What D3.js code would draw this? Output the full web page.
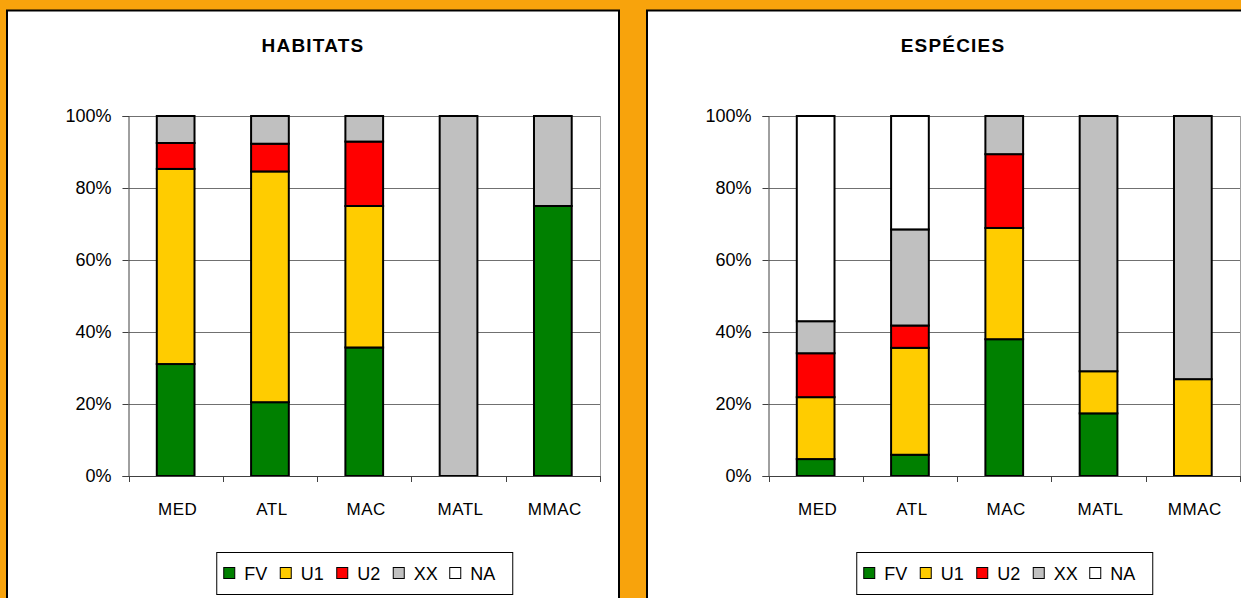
<!DOCTYPE html>
<html>
<head>
<meta charset="utf-8">
<script src="https://cdn.jsdelivr.net/npm/d3@7"></script>
<style>
  html, body { margin: 0; padding: 0; background: #f8a30c; }
  svg { display: block; font-family: "Liberation Sans", Arial, sans-serif; }
</style>
</head>
<body>
<svg id="chart" width="1241" height="598"></svg>
<script>
'use strict';

// categories and status classes
const categories = ['MED', 'ATL', 'MAC', 'MATL', 'MMAC'];
const statuses = ['FV', 'U1', 'U2', 'XX', 'NA'];
const statusColors = ['#008000', '#ffcc00', '#ff0000', '#c0c0c0', '#ffffff'];
const yTicks = [0, 0.2, 0.4, 0.6, 0.8, 1];

// HABITATS, percent of each region
const habFV = [31.1, 20.5, 35.7, 0, 75];
const habU1 = [54.2, 64.1, 39.3, 0, 0];
const habU2 = [7.2, 7.7, 17.9, 0, 0];
const habXX = [7.5, 7.7, 7.1, 100, 25];
const habNA = [0, 0, 0, 0, 0];

// ESPÉCIES
const espFV = [4.7, 5.9, 38.0, 17.4, 0];
const espU1 = [17.2, 29.7, 30.9, 11.7, 26.9];
const espU2 = [12.2, 6.2, 20.5, 0, 0];
const espXX = [8.9, 26.7, 10.6, 70.9, 73.1];
const espNA = [57.0, 31.5, 0, 0, 0];

const svg = d3.select('#chart');
svg.append('rect').attr('width', 1241).attr('height', 598).attr('fill', '#f8a30c');

function rows(series) {
  return categories.map((c, i) => {
    const r = { cat: c };
    statuses.forEach((s, j) => { r[s] = series[j][i] / 100; });
    return r;
  });
}

function panel(x0, title, series) {
  const g = svg.append('g').attr('transform', `translate(${x0},0)`);

  g.append('rect')
    .attr('x', 0).attr('y', 10.5)
    .attr('width', 612).attr('height', 640)
    .attr('fill', '#fff').attr('stroke', '#000').attr('stroke-width', 2);

  g.append('text')
    .attr('x', 306).attr('y', 52)
    .attr('text-anchor', 'middle')
    .attr('font-size', 19).attr('font-weight', 'bold')
    .attr('letter-spacing', 1.2)
    .text(title);

  const left = 121.5, width = 471.5, top = 116, bottom = 476;

  const y = d3.scaleLinear().domain([0, 1]).range([bottom, top]);
  const xb = d3.scaleBand().domain(categories).range([left, left + width]);
  const x = d3.scaleBand().domain(categories).range([left, left + width])
    .paddingInner(0.6).paddingOuter(0.3);

  // gridlines
  g.append('g').selectAll('line').data(yTicks.slice(1)).join('line')
    .attr('x1', left).attr('x2', left + width)
    .attr('y1', d => Math.round(y(d)) + 0.5).attr('y2', d => Math.round(y(d)) + 0.5)
    .attr('stroke', '#707070').attr('stroke-width', 1);
  g.append('line')
    .attr('x1', left + width + 0.5).attr('x2', left + width + 0.5)
    .attr('y1', top).attr('y2', bottom)
    .attr('stroke', '#a0a0a0');

  // stacked bars
  const stacked = d3.stack().keys(statuses)(rows(series));
  g.append('g').selectAll('g').data(stacked).join('g')
    .attr('fill', (d, i) => statusColors[i])
    .selectAll('rect').data(d => d.filter(p => p[1] - p[0] > 0)).join('rect')
    .attr('x', d => x(d.data.cat))
    .attr('width', x.bandwidth())
    .attr('y', d => y(d[1]))
    .attr('height', d => y(d[0]) - y(d[1]))
    .attr('stroke', '#000').attr('stroke-width', 2);

  // y axis
  const yAxis = g.append('g')
    .attr('transform', `translate(${left},0)`)
    .call(d3.axisLeft(y).tickValues(yTicks).tickFormat(d3.format('.0%')).tickSize(6).tickPadding(11));
  yAxis.select('.domain').attr('stroke', '#404040');
  yAxis.selectAll('.tick line').attr('stroke', '#404040');
  yAxis.selectAll('text').attr('font-size', 18).attr('fill', '#000')
    .attr('font-family', '"Liberation Sans", Arial, sans-serif');

  // x axis: ticks between categories
  const bounds = categories.map(c => xb(c)).concat([left + width]);
  g.append('line')
    .attr('x1', left).attr('x2', left + width)
    .attr('y1', bottom + 0.5).attr('y2', bottom + 0.5)
    .attr('stroke', '#404040');
  g.append('g').selectAll('line').data(bounds).join('line')
    .attr('x1', d => Math.round(d) + 0.5).attr('x2', d => Math.round(d) + 0.5)
    .attr('y1', bottom).attr('y2', bottom + 6)
    .attr('stroke', '#404040');
  g.append('g').selectAll('text').data(categories).join('text')
    .attr('x', d => xb(d) + xb.bandwidth() / 2 + 2)
    .attr('y', 515)
    .attr('text-anchor', 'middle')
    .attr('font-size', 17)
    .attr('letter-spacing', 0.5)
    .text(d => d);

  // legend
  const lw = 296, lh = 42;
  const lx = left + width / 2 - lw / 2, ly = 552;
  const lg = g.append('g').attr('transform', `translate(${lx},${ly})`);
  lg.append('rect').attr('x', 0.5).attr('y', 0.5).attr('width', lw).attr('height', lh)
    .attr('fill', '#fff').attr('stroke', '#000');
  const item = lg.selectAll('g').data(statuses).join('g')
    .attr('transform', (d, i) => `translate(${7 + i * 56.5},0)`);
  item.append('rect')
    .attr('x', 0.5).attr('y', 15.5).attr('width', 11).attr('height', 11)
    .attr('fill', (d, i) => statusColors[i]).attr('stroke', '#000');
  item.append('text')
    .attr('x', 21).attr('y', 28)
    .attr('font-size', 18)
    .text(d => d);
}

panel(7, 'HABITATS', [habFV, habU1, habU2, habXX, habNA]);
panel(647, 'ESPÉCIES', [espFV, espU1, espU2, espXX, espNA]);
</script>
</body>
</html>
